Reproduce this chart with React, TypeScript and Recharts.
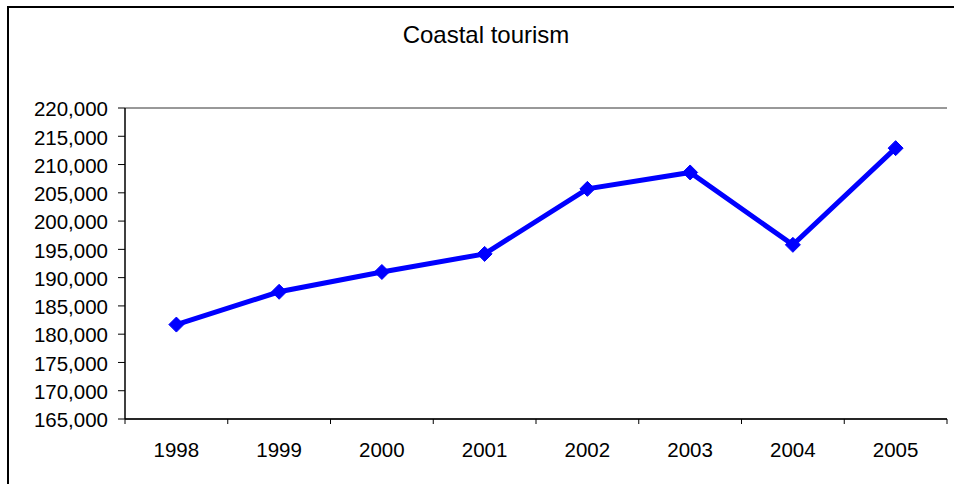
import { LineChart, Line, XAxis, YAxis, CartesianGrid } from "recharts";

const years = ["1998", "1999", "2000", "2001", "2002", "2003", "2004", "2005"];
const visitors = [181700, 187500, 191000, 194200, 205700, 208600, 195800, 212900];
const yTicks = [
  165000, 170000, 175000, 180000, 185000, 190000, 195000, 200000, 205000, 210000,
  215000, 220000,
];

const FONT = "'Liberation Sans', Arial, sans-serif";
const W = 954;
const H = 484;
const PLOT_LEFT = 125;
const PLOT_RIGHT = 947;
const PLOT_TOP = 108;
const PLOT_BOTTOM = 419;
const Y_AXIS_W = 110;
const X_AXIS_H = 30;
const BAND = (PLOT_RIGHT - PLOT_LEFT) / years.length;

const chartData = years.map((year, i) => ({ year, value: visitors[i] }));

function XTick(props: any) {
  const { x, y, payload, index } = props;
  return (
    <g>
      <line x1={x + BAND / 2} x2={x + BAND / 2} y1={y} y2={y + 5} stroke="#000" />
      {index === 0 && <line x1={x - BAND / 2} x2={x - BAND / 2} y1={y} y2={y + 5} stroke="#000" />}
      <text x={x} y={y + 38} textAnchor="middle" fontSize={20.5} fill="#000" fontFamily={FONT}>
        {payload.value}
      </text>
    </g>
  );
}

function Diamond(props: any) {
  const { cx, cy } = props;
  if (cx == null || cy == null) return null;
  const r = 7.5;
  return (
    <polygon
      points={`${cx},${cy - r} ${cx + r},${cy} ${cx},${cy + r} ${cx - r},${cy}`}
      fill="#0000ff"
      stroke="#0000ff"
      strokeWidth={1}
    />
  );
}

export default function App() {
  return (
    <div style={{ position: "absolute", left: 0, top: 0, width: W, height: H, overflow: "hidden", background: "#fff" }}>
      {/* chart frame: only its top and left edges fall inside the picture */}
      <div style={{ position: "absolute", left: 7, top: 6, width: W - 7, height: 2, background: "#000" }} />
      <div style={{ position: "absolute", left: 7, top: 6, width: 2, height: H - 6, background: "#000" }} />
      <div
        style={{
          position: "absolute",
          left: 8,
          top: 21,
          width: 956,
          textAlign: "center",
          fontFamily: FONT,
          fontSize: 24,
          color: "#000",
        }}
      >
        Coastal tourism
      </div>
      <div style={{ position: "absolute", left: 0, top: 0 }}>
        <LineChart
          width={W}
          height={H}
          data={chartData}
          margin={{
            left: PLOT_LEFT - Y_AXIS_W,
            right: W - PLOT_RIGHT,
            top: PLOT_TOP,
            bottom: H - PLOT_BOTTOM - X_AXIS_H,
          }}
        >
          <CartesianGrid vertical={false} stroke="#333" strokeWidth={1} />
          <XAxis
            dataKey="year"
            height={X_AXIS_H}
            padding={{ left: BAND / 2, right: BAND / 2 }}
            tick={<XTick />}
            tickLine={false}
            tickSize={0}
            tickMargin={0}
            axisLine={{ stroke: "#000", strokeWidth: 1.5 }}
            interval={0}
          />
          <YAxis
            yAxisId="left"
            width={Y_AXIS_W}
            domain={[165000, 220000]}
            ticks={yTicks}
            interval={0}
            tickFormatter={(v: number) => v.toLocaleString("en-US")}
            tick={{ fill: "#000", fontSize: 20.5, fontFamily: FONT, dy: 1 }}
            tickLine={{ stroke: "#000" }}
            tickSize={7}
            tickMargin={10}
            axisLine={{ stroke: "#000", strokeWidth: 1.5 }}
          />
          <YAxis
            yAxisId="right"
            orientation="right"
            width={0}
            domain={[165000, 220000]}
            tick={false}
            tickLine={false}
            axisLine={{ stroke: "#808080", strokeWidth: 2 }}
          />
          <Line
            yAxisId="left"
            dataKey="value"
            stroke="#0000ff"
            strokeWidth={5}
            dot={<Diamond />}
            activeDot={false}
            isAnimationActive={false}
          />
        </LineChart>
      </div>
    </div>
  );
}
